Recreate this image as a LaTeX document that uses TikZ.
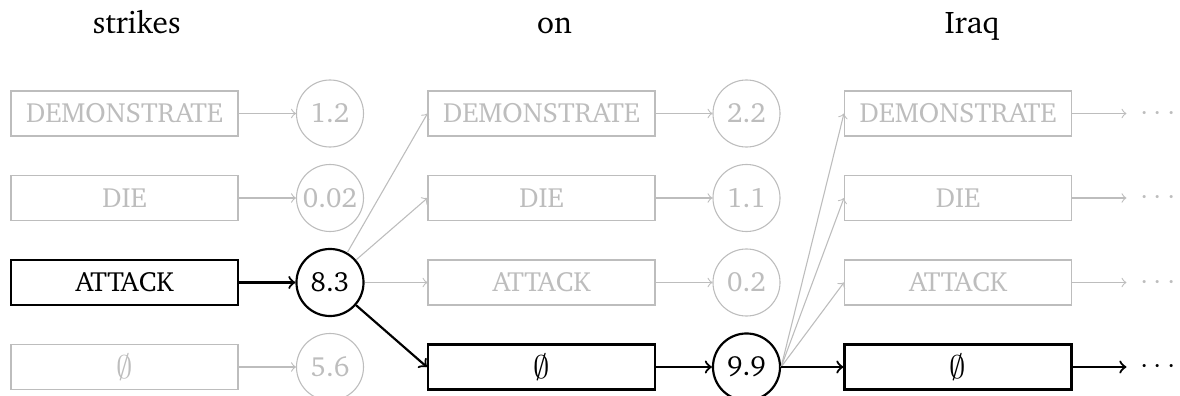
\documentclass[tikz,border=0pt]{standalone}
\usepackage[T1]{fontenc}
\usepackage{charter}
\definecolor{faded}{gray}{0.74}
\newcommand{\nolabel}{{\fontsize{12.3}{14}\selectfont$\emptyset$}}
\tikzset{
  labelbox/.style={draw, rectangle, minimum width=83.3pt, minimum height=16.5pt,
    inner sep=0pt, font=\fontsize{10.2}{12}\selectfont},
  score/.style={draw, circle, minimum size=24.6pt, inner sep=0pt,
    font=\fontsize{10.2}{12}\selectfont},
  inactive/.style={draw=faded, text=faded, line width=0.4pt},
  active/.style={draw=black, text=black, line width=0.8pt},
  weak/.style={->, draw=faded, line width=0.4pt},
  strong/.style={->, draw=black, line width=0.8pt},
  word/.style={font=\fontsize{11.5}{14}\selectfont, anchor=base},
  more/.style={inner xsep=5pt, inner ysep=2pt, font=\fontsize{11}{13}\selectfont}
}
\begin{document}
\begin{tikzpicture}[x=0.367pt, y=-0.367pt]
  \useasboundingbox (0,0) rectangle (1180,396);

  % words of the sentence
  \node[word] (w1) at (136.7,34) {strikes};
  \node[word] (w2) at (554.5,34) {on};
  \node[word] (w3) at (972,34) {Iraq};

  % first step: labels and scores
  \node[labelbox, inactive] (a1) at (124.5,113.5) {DEMONSTRATE};
  \node[labelbox, inactive] (a2) at (124.5,198) {DIE};
  \node[labelbox, active]   (a3) at (124.5,282.5) {ATTACK};
  \node[labelbox, inactive] (a4) at (124.5,367) {\nolabel};

  \node[score, inactive] (s1) at (330,113.5) {1.2};
  \node[score, inactive] (s2) at (330,198) {0.02};
  \node[score, active]   (s3) at (330,282.5) {8.3};
  \node[score, inactive] (s4) at (330,367) {5.6};

  % second step
  \node[labelbox, inactive] (b1) at (541.5,113.5) {DEMONSTRATE};
  \node[labelbox, inactive] (b2) at (541.5,198) {DIE};
  \node[labelbox, inactive] (b3) at (541.5,282.5) {ATTACK};
  \node[labelbox, active]   (b4) at (541.5,367) {\nolabel};

  \node[score, inactive] (t1) at (746.5,113.5) {2.2};
  \node[score, inactive] (t2) at (746.5,198) {1.1};
  \node[score, inactive] (t3) at (746.5,282.5) {0.2};
  \node[score, active]   (t4) at (746.5,367) {9.9};

  % third step
  \node[labelbox, inactive] (c1) at (958,113.5) {DEMONSTRATE};
  \node[labelbox, inactive] (c2) at (958,198) {DIE};
  \node[labelbox, inactive] (c3) at (958,282.5) {ATTACK};
  \node[labelbox, active]   (c4) at (958,367) {\nolabel};

  \node[more, text=faded] (d1) at (1158,113.5) {$\cdots$};
  \node[more, text=faded] (d2) at (1158,198) {$\cdots$};
  \node[more, text=faded] (d3) at (1158,282.5) {$\cdots$};
  \node[more]             (d4) at (1158,367) {$\cdots$};

  % label -> score
  \draw[weak] (a1) -- (s1);
  \draw[weak] (a2) -- (s2);
  \draw[weak] (a4) -- (s4);
  \draw[weak] (b1) -- (t1);
  \draw[weak] (b2) -- (t2);
  \draw[weak] (b3) -- (t3);
  \draw[weak] (c1) -- (d1);
  \draw[weak] (c2) -- (d2);
  \draw[weak] (c3) -- (d3);

  % best score -> every label of the next step
  \draw[weak] (s3) -- (b1.west);
  \draw[weak] (s3) -- (b2.west);
  \draw[weak] (s3) -- (b3.west);
  \draw[weak] (t4.east) -- (c1.west);
  \draw[weak] (t4.east) -- (c2.west);
  \draw[weak] (t4.east) -- (c3.west);

  % chosen path
  \draw[strong] (a3) -- (s3);
  \draw[strong] (s3) -- (b4.west);
  \draw[strong] (b4) -- (t4);
  \draw[strong] (t4) -- (c4);
  \draw[strong] (c4) -- (d4);
\end{tikzpicture}
\end{document}
